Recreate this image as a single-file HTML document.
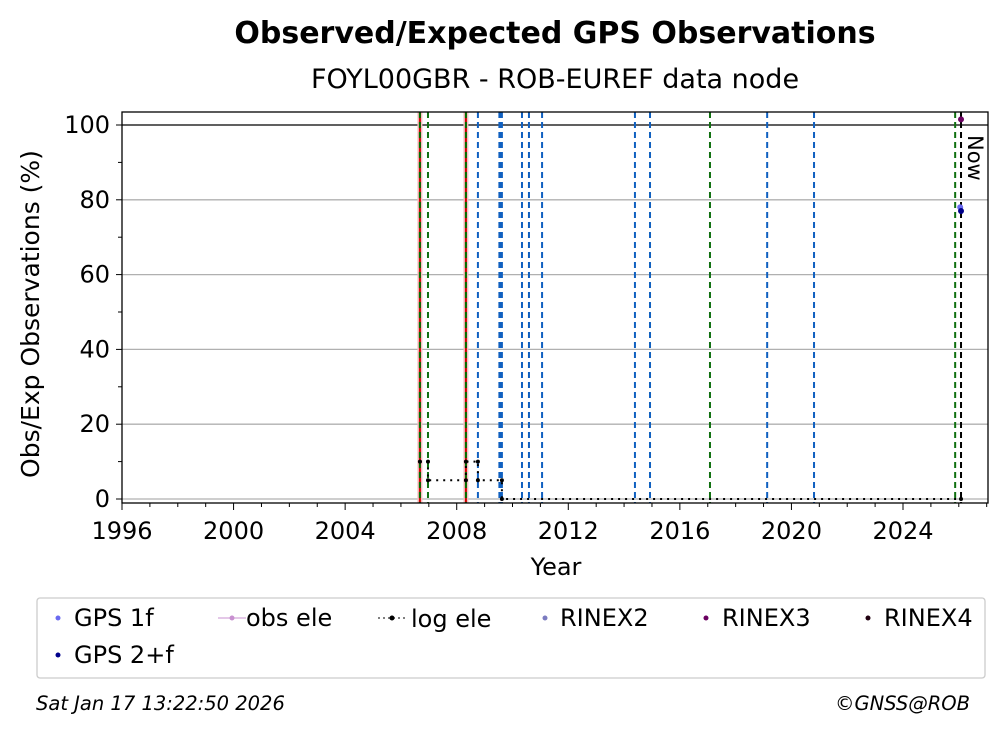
<!DOCTYPE html>
<html><head><meta charset="utf-8"><style>
body{margin:0;background:#fff;width:1008px;height:734px;overflow:hidden;font-family:"Liberation Sans","DejaVu Sans",sans-serif}
</style></head><body>
<svg id="c" width="1008" height="734" xmlns="http://www.w3.org/2000/svg" font-family="DejaVu Sans, Liberation Sans, sans-serif">
<text x="555" y="43" text-anchor="middle" font-size="30" font-weight="bold">Observed/Expected GPS Observations</text>
<text x="555" y="88" text-anchor="middle" font-size="27">FOYL00GBR - ROB-EUREF data node</text>
<g id="grid"></g>
<g id="marks"></g>
<rect x="122" y="112" width="866" height="391" fill="none" stroke="#000" stroke-width="1.3"/>
<g id="axes"></g>
<text x="556" y="575" text-anchor="middle" font-size="24">Year</text>
<text transform="translate(39,314) rotate(-90)" text-anchor="middle" font-size="25">Obs/Exp Observations (%)</text>
<text transform="translate(968,135) rotate(90)" font-size="21">Now</text>
<g>
<rect x="37" y="598" width="948" height="80" rx="3" fill="#fff" stroke="#ccc" stroke-width="1.3"/>
<circle cx="58" cy="618" r="2.5" fill="#6a6af0"/><text x="74" y="626" font-size="24">GPS 1f</text>
<line x1="218" y1="618" x2="246" y2="618" stroke="#c890d0"/><circle cx="232" cy="618" r="2.5" fill="#c890d0"/><text x="246" y="626" font-size="24">obs ele</text>
<line x1="378" y1="618" x2="406" y2="618" stroke="#000" stroke-dasharray="2,3"/><circle cx="392" cy="618" r="2.5" fill="#000"/><text x="411" y="627" font-size="24">log ele</text>
<circle cx="545" cy="618" r="2.5" fill="#7b7bc0"/><text x="560" y="626" font-size="24">RINEX2</text>
<circle cx="706" cy="618" r="2.5" fill="#6a0060"/><text x="722" y="626" font-size="24">RINEX3</text>
<circle cx="868" cy="618" r="2.5" fill="#200010"/><text x="884" y="626" font-size="24">RINEX4</text>
<circle cx="58" cy="655" r="2.5" fill="#00008b"/><text x="74" y="663" font-size="24">GPS 2+f</text>
</g>
<text x="36" y="710" font-size="19.5" font-style="italic">Sat Jan 17 13:22:50 2026</text>
<text x="970" y="710" text-anchor="end" font-size="19.5" font-style="italic">©GNSS@ROB</text>
</svg>
<script>
const yTicks=[0,20,40,60,80,100];
const xTicks=[1996,2000,2004,2008,2012,2016,2020,2024];
const receiverChanges=[2006.68,2008.33];
const antennaChanges=[2006.97,2017.08,2025.87];
const otherEvents=[2008.76,2009.53,2009.57,2009.62,2010.34,2010.59,2011.06,2014.39,2014.93,2019.13,2020.81];
const nowYear=2026.08;
const logX=[2006.68,2006.97,2006.97,2008.33,2008.33,2008.76,2008.76,2009.62,2009.62,2026.08];
const logY=[10,10,5,5,10,10,5,5,0,0];
const r3X=[2026.08];const r3Y=[101.5];
const g1X=[2026.05];const g1Y=[78];
const g2X=[2026.08];const g2Y=[77];
const X=y=>122+(y-1996)*27.893,Y=v=>499-v*3.74;
const ns='http://www.w3.org/2000/svg';
function mk(p,t,a){const e=document.createElementNS(ns,t);for(const k in a)e.setAttribute(k,a[k]);document.getElementById(p).appendChild(e);return e;}
yTicks.forEach(v=>{
const g=mk('grid','line',{x1:122,x2:988,y1:Y(v),y2:Y(v),stroke:v==100?'#000':'#b0b0b0','stroke-width':1.3});


mk('axes','line',{x1:116,x2:122,y1:Y(v),y2:Y(v),stroke:'#000'});
const t=mk('axes','text',{x:110,y:Y(v)+8,'text-anchor':'end','font-size':24});t.textContent=v;


if(v<100)mk('axes','line',{x1:118,x2:122,y1:Y(v+10),y2:Y(v+10),stroke:'#000'});
});
for(let yr=1996;yr<=2027;yr++)mk('axes','line',{x1:X(yr),x2:X(yr),y1:503,y2:yr%4==0?510:507,stroke:'#000'});
xTicks.forEach(v=>{const t=mk('axes','text',{x:X(v),y:539,'text-anchor':'middle','font-size':24});t.textContent=v;

});
const vl=(x,c,w,d,name)=>{const l=mk('marks','line',{x1:X(x),x2:X(x),y1:112,y2:503,stroke:c,'stroke-width':w,'stroke-dasharray':d});

};
receiverChanges.forEach(x=>{mk('marks','line',{x1:X(x),x2:X(x),y1:112,y2:503,stroke:'#f4c0c0','stroke-width':5});vl(x,'#d00000',2,'','receiver-change');vl(x,'#007000',2,'6,4','receiver-change-antenna');});
otherEvents.forEach(x=>vl(x,'#1060c0',2,'6,4','event-line'));
antennaChanges.forEach(x=>vl(x,'#107010',2,'6,4','antenna-change'));
vl(nowYear,'#000',2,'6,4','now-line');
let d='';logX.forEach((x,i)=>d+=(i?'L':'M')+X(x)+','+Y(logY[i]));
const p=mk('marks','path',{d:d,fill:'none',stroke:'#000','stroke-width':2,'stroke-dasharray':'2,5'});


logX.forEach((x,i)=>{const c=mk('marks','circle',{cx:X(x),cy:Y(logY[i]),r:2,fill:'#000'});

});
const pts=(xs,ys,col,name)=>xs.forEach((x,i)=>{const c=mk('marks','circle',{cx:X(x),cy:Y(ys[i]),r:3,fill:col});

});
pts(r3X,r3Y,'#6a0060','rinex3-point');pts(g1X,g1Y,'#6a6af0','gps1f-point');pts(g2X,g2Y,'#00008b','gps2f-point');
</script>
</body></html>
